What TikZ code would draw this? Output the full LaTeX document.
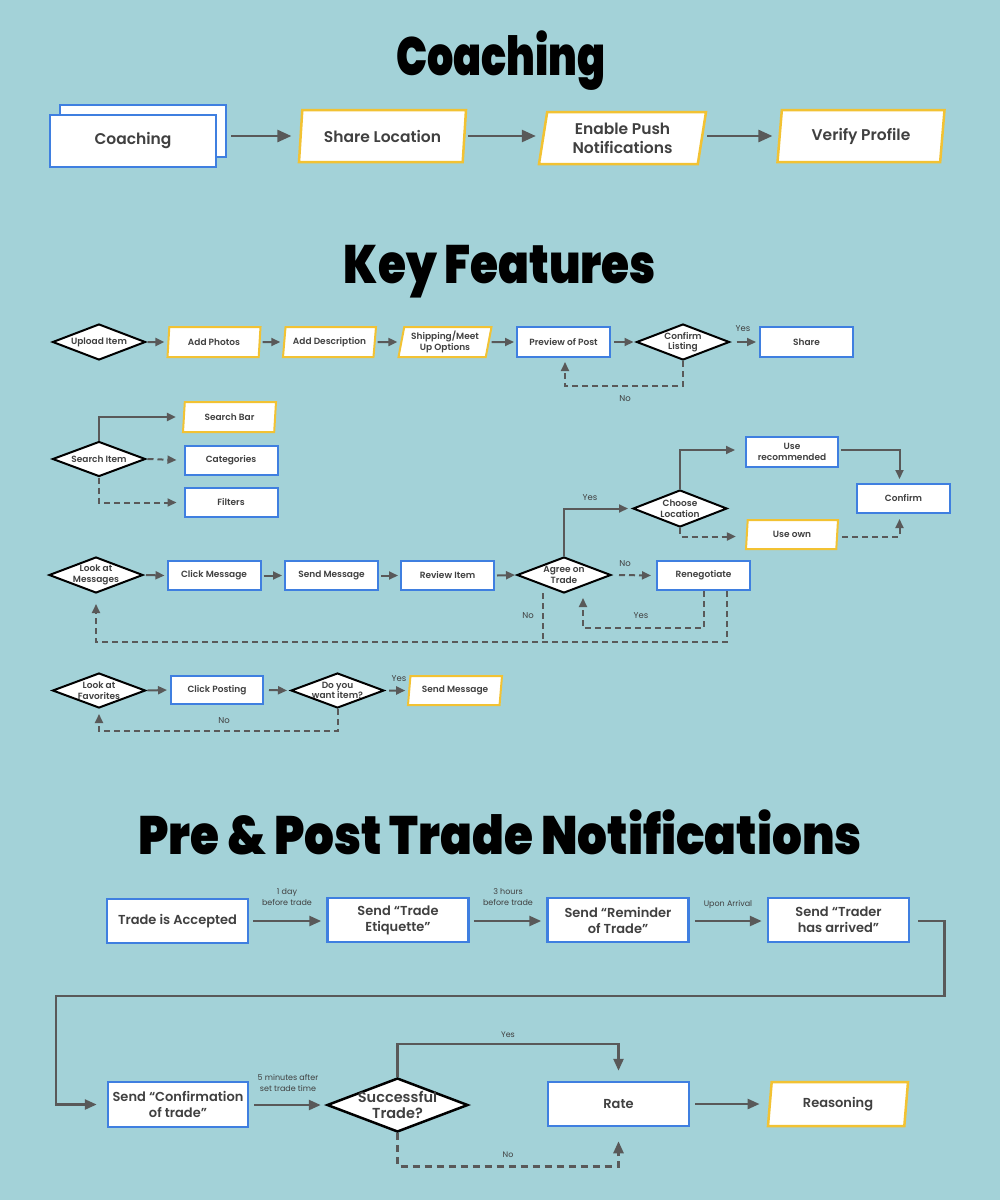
\documentclass[tikz,border=0pt]{standalone}
\usepackage{fontspec}
\setmainfont{Poppins}
\newfontfamily\pmed{Poppins SemiBold}
\newfontfamily\pblack{Poppins Black}
\usetikzlibrary{shapes.geometric,arrows.meta}
\definecolor{bg}{HTML}{A3D2D8}
\definecolor{bluec}{HTML}{3F7FE0}
\definecolor{yel}{HTML}{F2C233}
\definecolor{linec}{HTML}{595959}
\definecolor{txt}{HTML}{404040}
\tikzset{
  base/.style={fill=white, inner sep=0pt, text=txt, align=center},
  box/.style={base, rectangle, draw=bluec, line width=2pt, font=\pmed\fontsize{9}{10.5}\selectfont},
  para/.style={base, trapezium, trapezium left angle=75, trapezium right angle=105, trapezium stretches body, draw=yel, line width=2pt, font=\pmed\fontsize{9}{10.5}\selectfont},
  dia/.style={diamond, draw=black, fill=white, line width=2pt, inner sep=0pt},
  dtext/.style={text=txt, align=center, font=\pmed\fontsize{9}{10.5}\selectfont},
  cbox/.style={box, line width=2.5pt, minimum width=166pt, minimum height=52pt, font=\pmed\fontsize{15.5}{19}\selectfont},
  cpara/.style={para, line width=2.5pt, minimum width=167pt, minimum height=52pt, font=\pmed\fontsize{15.5}{19}\selectfont},
  nbox/.style={box, line width=2.5pt, minimum width=141pt, minimum height=44pt, font=\pmed\fontsize{13}{16}\selectfont},
  npara/.style={para, line width=2.5pt, minimum width=141pt, minimum height=44pt, font=\pmed\fontsize{13}{16}\selectfont},
  kbox/.style={box, minimum width=93pt, minimum height=30pt},
  kpara/.style={para, minimum width=93pt, minimum height=30pt},
  kdia/.style={dia, minimum width=93pt, minimum height=36pt},
  arr/.style={draw=linec, line width=2pt, -{Triangle[length=9pt,width=8pt]}},
  darr/.style={arr, dash pattern=on 6pt off 4pt},
  dline/.style={draw=linec, line width=2pt, dash pattern=on 6pt off 4pt},
  carr/.style={draw=linec, line width=2.5pt, -{Triangle[length=14pt,width=12pt]}},
  narr/.style={draw=linec, line width=2.5pt, -{Triangle[length=12pt,width=10pt]}},
  nline/.style={draw=linec, line width=2.5pt},
  ndarr/.style={narr, dash pattern=on 7pt off 5pt},
  lab/.style={text=txt, font=\fontsize{8.5}{10}\selectfont, inner sep=0pt, align=center},
  nlab/.style={text=txt, font=\fontsize{8}{10.5}\selectfont, inner sep=0pt, align=center},
  title/.style={text=black, inner sep=0pt, anchor=base},
}
\begin{document}
\begin{tikzpicture}[x=1pt,y=-1pt]
\fill[bg] (0,0) rectangle (1000,1200);
\useasboundingbox (0,0) rectangle (1000,1200);

% ---------- titles
\node[title] (t1) at (501,75) {\scalebox{0.765}[1]{\pblack\fontsize{54}{60}\selectfont Coaching}};
\node[title] (t2) at (500,283) {\scalebox{0.84}[1]{\pblack\fontsize{54}{60}\selectfont Key Features}};
\node[title] (t3) at (500,854) {\scalebox{0.868}[1]{\pblack\fontsize{54}{60}\selectfont Pre \& Post Trade Notifications}};

% ---------- Coaching row
\node[cbox] (coachb) at (143,131) {};
\node[cbox] (coach) at (133,141) {Coaching};
\node[cpara] (share) at (382.5,136) {Share Location};
\node[cpara] (push) at (622.5,138) {Enable Push\\Notifications};
\node[cpara] (verify) at (861,136) {Verify Profile};
\draw[carr] ([xshift=4pt]coachb.east |- share.west) -- ([xshift=-8pt]share.west);
\draw[carr] ([xshift=2pt]share.east) -- ([xshift=-6pt]push.west |- share.east);
\draw[carr] ([xshift=4pt]push.east |- verify.west) -- ([xshift=-6pt]verify.west);

% ---------- Key features row 1
\node[kdia] (upload) at (99,342) {};
\node[dtext] (uploadt) at (upload) {Upload Item};
\node[kpara] (photos) at (214,342) {Add Photos};
\node[kpara] (desc) at (329.5,342) {Add Description};
\node[kpara] (ship) at (445,342) {Shipping/Meet\\Up Options};
\node[kbox] (preview) at (563.5,342) {Preview of Post};
\node[kdia] (confirm) at (683,342) {};
\node[dtext] (confirmt) at (confirm) {Confirm\\Listing};
\node[kbox] (sharek) at (806.5,342) {Share};
\draw[arr] ([xshift=1pt]upload.east) -- ([xshift=-3pt]photos.west);
\draw[arr] ([xshift=2pt]photos.east) -- ([xshift=-3pt]desc.west);
\draw[arr] ([xshift=2pt]desc.east) -- ([xshift=-3pt]ship.west);
\draw[arr] ([xshift=2pt]ship.east) -- ([xshift=-2pt]preview.west);
\draw[arr] ([xshift=3pt]preview.east) -- ([xshift=-2pt]confirm.west);
\draw[arr] ([xshift=6pt]confirm.east) -- ([xshift=-3pt]sharek.west);
\node[lab] (yes1) at (743,329) {Yes};
\draw[darr] (confirm.south) -- ++(0,25) -| ([xshift=1.5pt,yshift=-4pt]preview.south);
\node[lab] (no1) at (625,399) {No};

% ---------- Search
\node[kdia, minimum height=35pt] (search) at (99,459) {};
\node[dtext] (searcht) at (search) {Search Item};
\node[kpara] (sbar) at (229.5,417) {Search Bar};
\node[kbox, minimum height=29pt] (cat) at (231,460) {Categories};
\node[kbox, minimum height=29pt] (filt) at (231,502.5) {Filters};
\draw[arr] (search.north) |- ([xshift=-7pt]sbar.west);
\draw[darr] ([xshift=1pt]search.east) -- ([xshift=-7pt]cat.west);
\draw[darr] (search.south) |- ([xshift=-7pt]filt.west);

% ---------- Messages
\node[kdia, minimum width=94pt] (msgs) at (96,575) {};
\node[dtext] (msgst) at (msgs) {Look at\\Messages};
\node[kbox, minimum height=29pt] (clickm) at (214,575.5) {Click Message};
\node[kbox, minimum height=29pt] (sendm) at (331.5,575.5) {Send Message};
\node[kbox, minimum height=29pt] (review) at (447.5,575.5) {Review Item};
\node[kdia, minimum width=94pt] (agree) at (564,575) {};
\node[dtext] (agreet) at (agree) {Agree on\\Trade};
\node[kbox, minimum height=29pt] (reneg) at (703.5,575.5) {Renegotiate};
\node[kdia, minimum width=94pt, minimum height=37pt] (choose) at (680,508.5) {};
\node[dtext] (chooset) at (choose) {Choose\\Location};
\node[kbox, minimum width=92pt] (userec) at (792,452) {Use\\recommended};
\node[kpara, minimum width=92pt, minimum height=29pt] (useown) at (792,534.5) {Use own};
\node[kbox, minimum height=29pt] (confirmb) at (903.5,498.5) {Confirm};
\draw[arr] ([xshift=2pt]msgs.east) -- ([xshift=-2pt]clickm.west);
\draw[arr] ([xshift=2pt]clickm.east) -- ([xshift=-2pt]sendm.west);
\draw[arr] ([xshift=2pt]sendm.east) -- ([xshift=-2pt]review.west);
\draw[arr] ([xshift=2pt]review.east) -- ([xshift=-1pt]agree.west);
\draw[darr] ([xshift=7pt]agree.east) -- ([xshift=-5pt]reneg.west);
\node[lab] (no2) at (625,564) {No};
\draw[arr] (agree.north) |- ([xshift=-4pt]choose.west);
\node[lab] (yes2) at (590,498) {Yes};
\draw[arr] (choose.north) |- ([xshift=-10pt,yshift=2pt]userec.west);
\draw[arr] ([xshift=2pt,yshift=2pt]userec.east) -| ([xshift=-4pt,yshift=4pt]confirmb.north);
\draw[darr] (choose.south) |- ([xshift=-10pt,yshift=-2pt]useown.west);
\draw[darr] ([xshift=4pt,yshift=-2pt]useown.east) -| ([xshift=-4pt,yshift=-5pt]confirmb.south);
\draw[darr] (reneg.south) -- ++(0,37) -| ([xshift=19pt,yshift=-4pt]agree.south);
\node[lab] (yes3) at (641,616) {Yes};
\draw[dline] ([xshift=-21pt,yshift=1pt]agree.south) -- ++(0,48);
\draw[darr] ([xshift=23pt]reneg.south) -- ++(0,51) -| ([yshift=-10pt]msgs.south);
\node[lab] (no3) at (528,616) {No};

% ---------- Favorites
\node[kdia, minimum height=35pt] (fav) at (99,690.5) {};
\node[dtext] (favt) at (fav) {Look at\\Favorites};
\node[kbox, minimum width=92pt, minimum height=28pt] (clickp) at (217,690) {Click Posting};
\node[kdia, minimum height=35pt] (want) at (337.5,690.5) {};
\node[dtext] (wantt) at (want) {Do you\\want item?};
\node[kpara, minimum width=94pt, minimum height=29pt] (sendm2) at (455,690.5) {Send Message};
\draw[arr] ([xshift=1pt]fav.east) -- ([xshift=-3pt]clickp.west);
\draw[arr] ([xshift=5pt]clickp.east) -- ([xshift=-3pt]want.west);
\draw[arr] ([xshift=4pt]want.east) -- ([xshift=-3pt]sendm2.west);
\node[lab] (yes4) at (399,679) {Yes};
\draw[darr] (want.south) -- ++(0,22) -| ([yshift=-5pt]fav.south);
\node[lab] (no4) at (224,721) {No};

% ---------- Notifications
\node[nbox] (acc) at (177.5,921) {Trade is Accepted};
\node[nbox] (etiq) at (398,920) {Send “Trade\\Etiquette”};
\node[nbox] (remind) at (618,920) {Send “Reminder\\of Trade”};
\node[nbox] (arrived) at (838.5,920) {Send “Trader\\has arrived”};
\draw[narr] ([xshift=4pt]acc.east) -- ([xshift=-5pt]etiq.west |- acc.east);
\node[nlab] (l1) at (287,897) {1 day\\before trade};
\draw[narr] ([xshift=4pt,yshift=-1pt]etiq.east) -- ([xshift=-5pt,yshift=-1pt]remind.west);
\node[nlab] (l2) at (508,897) {3 hours\\before trade};
\draw[narr] ([xshift=5pt,yshift=-1pt]remind.east) -- ([xshift=-5pt,yshift=-1pt]arrived.west);
\node[nlab] (l3) at (728,904) {Upon Arrival};
\coordinate (turn) at (56,996);
\node[nbox, minimum width=140pt, minimum height=45pt] (conft) at (178,1104.5) {Send “Confirmation\\of trade”};
\draw[narr] ([xshift=8pt,yshift=-1pt]arrived.east) -- ++(26,0) |- (turn) |- ([xshift=-10pt]conft.west);
\node[dia, line width=2.5pt, minimum width=141pt, minimum height=54pt] (succ) at (397.5,1105) {};
\node[dtext, font=\pmed\fontsize{14.5}{16}\selectfont] (succt) at (succ) {Successful\\Trade?};
\node[nbox] (rate) at (618.5,1104) {Rate};
\node[npara, minimum width=140pt] (reason) at (838,1104) {Reasoning};
\draw[narr] ([xshift=5pt]conft.east |- succ.west) -- ([xshift=-5pt]succ.west);
\node[nlab] (l4) at (288,1083) {5 minutes after\\set trade time};
\draw[narr] (succ.north) -- ++(0,-33) -| ([yshift=10pt]rate.north);
\node[nlab] (yes5) at (508,1035) {Yes};
\draw[ndarr] (succ.south) -- ++(0,33) -| ([yshift=-14pt]rate.south);
\node[nlab] (no5) at (508,1155) {No};
\draw[narr] ([xshift=5pt]rate.east) -- ([xshift=-9pt]reason.west |- rate.east);
\end{tikzpicture}
\end{document}
